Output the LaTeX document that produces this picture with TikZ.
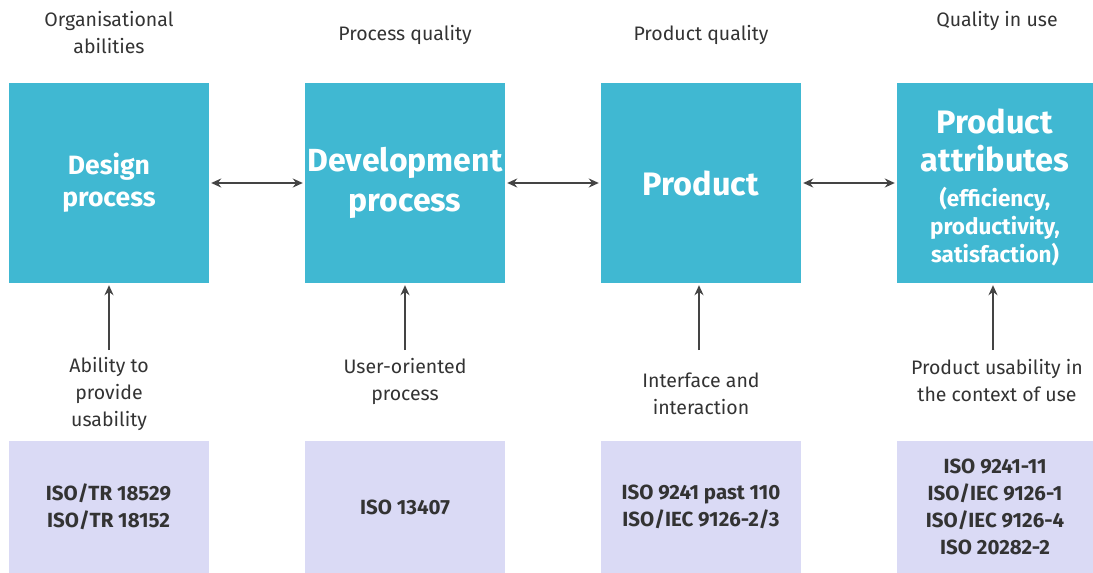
\documentclass[tikz,border=0pt]{standalone}
\usepackage{fontspec}
\setmainfont{Fira Sans}
\usetikzlibrary{arrows.meta}
\definecolor{teal}{HTML}{40B8D2}
\definecolor{lavender}{HTML}{DADAF5}
\definecolor{ink}{HTML}{333333}
\definecolor{arrowgray}{HTML}{444444}
\tikzset{
  topbox/.style={fill=teal, minimum width=200pt, minimum height=200pt, inner sep=0pt,
    text=white, align=center, font=\fontsize{26.5}{32}\selectfont\bfseries},
  stdbox/.style={fill=lavender, minimum width=200pt, minimum height=132pt, inner sep=0pt,
    text=ink, align=center, font=\fontsize{20.5}{27}\selectfont\bfseries},
  caption/.style={text=ink, align=center, inner sep=0pt, font=\fontsize{19.5}{27}\selectfont},
  link/.style={draw=arrowgray, line width=1.9pt, {Stealth[length=10pt,width=9pt]}-{Stealth[length=10pt,width=9pt]}},
  upflow/.style={draw=arrowgray, line width=1.9pt, -{Stealth[length=10pt,width=9pt]}}
}
\begin{document}
\begin{tikzpicture}[x=1pt,y=-1pt]
\useasboundingbox (0,0) rectangle (1093,573);

% column headings
\node[caption] (h1) at (109,33) {Organisational\\abilities};
\node[caption] (h2) at (405,35) {Process quality};
\node[caption] (h3) at (701,35) {Product quality};
\node[caption] (h4) at (997,21) {Quality in use};

% main stages
\node[topbox] (d1) at (109,183) {Design\\process};
\node[topbox, font=\fontsize{32}{40}\selectfont\bfseries] (d2) at (405,183) {Development\\process};
\node[topbox, font=\fontsize{32.5}{40}\selectfont\bfseries] (d3) at (701,183) {Product};
\node[topbox, minimum width=196pt] (d4) at (995,183) {};
\node[text=white, inner sep=0pt] (d4text) at (995,187.5)
  {\parbox{190pt}{\centering\bfseries
     \fontsize{32.5}{38}\selectfont Product\\attributes\par
     \vspace{7pt}
     \fontsize{22.5}{28}\selectfont (efficiency,\\productivity,\\satisfaction)\par}};

% links between stages
\draw[link, shorten <=2pt, shorten >=2pt] (d1.east) -- (d2.west);
\draw[link, shorten <=2pt, shorten >=2pt] (d2.east) -- (d3.west);
\draw[link, shorten <=2pt, shorten >=2pt] (d3.east) -- (d4.west);

% inputs from below
\coordinate (t1) at (109,350);
\coordinate (t2) at (405,350);
\coordinate (t3) at (699,350);
\coordinate (t4) at (993,350);
\draw[upflow, shorten >=2pt] (t1) -- (d1.south -| t1);
\draw[upflow, shorten >=2pt] (t2) -- (d2.south -| t2);
\draw[upflow, shorten >=2pt] (t3) -- (d3.south -| t3);
\draw[upflow, shorten >=2pt] (t4) -- (d4.south -| t4);

\node[caption] (c1) at (109,394) {Ability to\\provide\\usability};
\node[caption] (c2) at (405,381) {User-oriented\\process};
\node[caption] (c3) at (701,394) {Interface and\\interaction};
\node[caption] (c4) at (997,381) {Product usability in\\the context of use};

% standards
\node[stdbox] (s1) at (108.5,507) {ISO/TR 18529\\ISO/TR 18152};
\node[stdbox] (s2) at (405,507) {ISO 13407};
\node[stdbox] (s3) at (701,507) {ISO 9241 past 110\\ISO/IEC 9126-2/3};
\node[stdbox, minimum width=196pt] (s4) at (995,507) {ISO 9241-11\\ISO/IEC 9126-1\\ISO/IEC 9126-4\\ISO 20282-2};
\end{tikzpicture}
\end{document}
